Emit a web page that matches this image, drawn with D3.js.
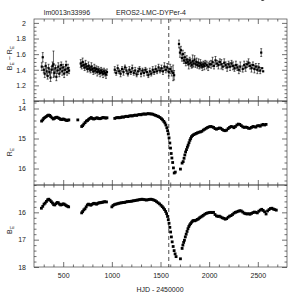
<!DOCTYPE html>
<html>
<head>
<meta charset="utf-8">
<script src="https://cdn.jsdelivr.net/npm/d3@7"></script>
<style>
  html, body { margin: 0; padding: 0; background: #fff; }
  svg text { font-family: "Liberation Sans", Arial, sans-serif; fill: #222; }
</style>
</head>
<body>
<div id="chart"></div>
<script>
// colour index B_E - R_E
const tCol = [280, 290, 300, 310, 320, 330, 340, 350, 360, 370, 380, 390, 400, 410, 420, 430, 440, 450, 460, 470, 480, 490, 500, 510, 520, 530, 540, 550, 560,
  680, 690, 700, 710, 720, 730, 740, 750, 760, 770, 780, 790, 800, 810, 820, 830, 840, 850, 860, 870, 880, 890, 900, 910, 920, 930, 940, 950,
  1030, 1045, 1060, 1075, 1090, 1105, 1120, 1135, 1150, 1165, 1180, 1195, 1210, 1225, 1240, 1255, 1270, 1285, 1300, 1315, 1330, 1345, 1360, 1375, 1390, 1405, 1420, 1435, 1450, 1465, 1480, 1495, 1510, 1525, 1540, 1555, 1570, 1585, 1600, 1615, 1630, 1640,
  1690, 1700, 1710, 1720, 1730, 1740, 1750, 1760, 1770, 1780, 1790, 1800, 1810, 1820, 1830, 1840, 1850, 1860, 1870, 1880, 1890, 1900, 1910, 1920, 1930, 1940, 1950, 1960, 1975, 1990, 2005,
  2020, 2035, 2050, 2065, 2080, 2095, 2110, 2125, 2140, 2155, 2170, 2185, 2200, 2215, 2230, 2245, 2260, 2275, 2290, 2305, 2320, 2345, 2360, 2375, 2390, 2405, 2420, 2435, 2450, 2465, 2480, 2495, 2510, 2525, 2535, 2545, 2555];
const colVal = [1.44, 1.56, 1.40, 1.35, 1.45, 1.38, 1.32, 1.42, 1.37, 1.30, 1.40, 1.45, 1.47, 1.36, 1.42, 1.31, 1.39, 1.44, 1.35, 1.41, 1.46, 1.38, 1.43, 1.35, 1.40, 1.46, 1.37, 1.42, 1.39,
  1.48, 1.45, 1.50, 1.46, 1.43, 1.47, 1.44, 1.41, 1.45, 1.42, 1.40, 1.44, 1.41, 1.38, 1.42, 1.39, 1.41, 1.37, 1.40, 1.38, 1.36, 1.39, 1.37, 1.35, 1.38, 1.36, 1.34, 1.37,
  1.40, 1.36, 1.42, 1.38, 1.35, 1.41, 1.37, 1.43, 1.39, 1.35, 1.40, 1.37, 1.42, 1.36, 1.39, 1.34, 1.38, 1.41, 1.35, 1.39, 1.36, 1.40, 1.37, 1.33, 1.38, 1.35, 1.40, 1.37, 1.41, 1.38, 1.43, 1.39, 1.42, 1.38, 1.44, 1.40, 1.43, 1.37, 1.41, 1.38, 1.36, 1.33,
  1.73, 1.62, 1.65, 1.55, 1.60, 1.52, 1.56, 1.49, 1.53, 1.50, 1.47, 1.52, 1.49, 1.46, 1.51, 1.48, 1.53, 1.47, 1.50, 1.46, 1.49, 1.45, 1.48, 1.46, 1.44, 1.47, 1.45, 1.48, 1.46, 1.44, 1.47,
  1.47, 1.50, 1.45, 1.52, 1.48, 1.46, 1.50, 1.47, 1.44, 1.49, 1.46, 1.43, 1.47, 1.44, 1.48, 1.45, 1.42, 1.46, 1.43, 1.40, 1.44, 1.41, 1.46, 1.43, 1.47, 1.49, 1.45, 1.42, 1.46, 1.41, 1.44, 1.40, 1.43, 1.39, 1.62, 1.42, 1.38];
const colErr = [0.05, 0.06, 0.04, 0.05, 0.04, 0.05, 0.04, 0.05, 0.04, 0.05, 0.04, 0.05, 0.17, 0.05, 0.04, 0.05, 0.04, 0.05, 0.04, 0.05, 0.04, 0.05, 0.04, 0.05, 0.04, 0.05, 0.04, 0.05, 0.04,
  0.05, 0.04, 0.05, 0.04, 0.04, 0.05, 0.04, 0.04, 0.05, 0.04, 0.04, 0.05, 0.04, 0.04, 0.05, 0.04, 0.04, 0.05, 0.04, 0.04, 0.05, 0.04, 0.04, 0.05, 0.04, 0.04, 0.05, 0.04,
  0.04, 0.03, 0.04, 0.03, 0.04, 0.03, 0.04, 0.03, 0.04, 0.03, 0.04, 0.03, 0.04, 0.03, 0.04, 0.03, 0.04, 0.03, 0.04, 0.03, 0.04, 0.03, 0.04, 0.03, 0.04, 0.03, 0.04, 0.03, 0.04, 0.03, 0.04, 0.03, 0.04, 0.04, 0.05, 0.04, 0.05, 0.05, 0.06, 0.06,
  0.10, 0.06, 0.05, 0.06, 0.05, 0.04, 0.05, 0.04, 0.06, 0.04, 0.05, 0.04, 0.06, 0.04, 0.05, 0.04, 0.08, 0.04, 0.05, 0.04, 0.05, 0.04, 0.05, 0.04, 0.05, 0.04, 0.05, 0.04, 0.05, 0.04, 0.05,
  0.05, 0.04, 0.05, 0.06, 0.04, 0.05, 0.04, 0.05, 0.04, 0.06, 0.04, 0.05, 0.04, 0.05, 0.04, 0.05, 0.04, 0.05, 0.04, 0.05, 0.04, 0.05, 0.06, 0.04, 0.05, 0.05, 0.04, 0.05, 0.04, 0.05, 0.04, 0.05, 0.04, 0.05, 0.05, 0.04, 0.05];

// R_E magnitude
const tR = [278, 290, 300, 312, 325, 338, 350, 362, 372, 385, 398, 410, 422, 435, 448, 460, 472, 485, 498, 510, 522, 535, 548, 558,
  650,
  690, 700, 712, 725, 738, 750, 762, 775, 788, 800, 812, 825, 838, 850, 862, 875, 888, 900, 912, 925, 938, 950,
  1030, 1045, 1060, 1075, 1090, 1105, 1120, 1135, 1150, 1165, 1180, 1195, 1210, 1225, 1240, 1255, 1270, 1285, 1300, 1315, 1330, 1345, 1360, 1375, 1390, 1405, 1420, 1435, 1450, 1465, 1480, 1495, 1510, 1522, 1534, 1545, 1555, 1565, 1573, 1580, 1588, 1596, 1603, 1610, 1617, 1625, 1633, 1641, 1652,
  1705, 1722, 1733, 1742, 1750, 1758, 1767, 1776, 1784, 1793, 1802, 1810, 1818, 1830, 1842, 1855, 1868, 1880, 1895, 1910, 1925, 1940, 1955, 1970, 1985, 2000, 2015, 2030, 2045, 2060, 2075, 2090, 2105, 2120, 2135, 2150, 2165, 2180, 2195, 2210, 2225, 2240, 2255, 2270, 2285, 2300, 2315, 2330, 2345, 2360, 2375, 2390, 2405, 2420, 2435, 2450, 2465, 2480, 2495, 2510, 2525, 2540, 2555, 2570, 2585];
const rMag = [14.42, 14.38, 14.33, 14.30, 14.27, 14.24, 14.22, 14.23, 14.27, 14.31, 14.35, 14.33, 14.30, 14.29, 14.31, 14.33, 14.36, 14.37, 14.35, 14.36, 14.38, 14.40, 14.39, 14.38,
  14.38,
  14.60, 14.57, 14.52, 14.47, 14.42, 14.40, 14.36, 14.33, 14.30, 14.33, 14.35, 14.34, 14.32, 14.31, 14.33, 14.34, 14.33, 14.31, 14.30, 14.31, 14.32, 14.31,
  14.33, 14.31, 14.30, 14.31, 14.30, 14.28, 14.29, 14.27, 14.26, 14.27, 14.25, 14.24, 14.25, 14.23, 14.22, 14.23, 14.21, 14.20, 14.21, 14.19, 14.18, 14.19, 14.18, 14.17, 14.18, 14.18, 14.19, 14.21, 14.23, 14.25, 14.27, 14.30, 14.34, 14.38, 14.43, 14.48, 14.55, 14.64, 14.74, 14.85, 14.98, 15.15, 15.32, 15.50, 15.65, 15.80, 15.98, 16.15, 16.12,
  16.02, 15.82, 15.77, 15.66, 15.55, 15.45, 15.37, 15.29, 15.22, 15.14, 15.06, 15.00, 14.94, 14.90, 14.87, 14.85, 14.83, 14.81, 14.79, 14.78, 14.76, 14.72, 14.69, 14.66, 14.63, 14.61, 14.60, 14.61, 14.63, 14.67, 14.69, 14.67, 14.65, 14.66, 14.70, 14.73, 14.74, 14.72, 14.67, 14.63, 14.60, 14.61, 14.64, 14.60, 14.55, 14.52, 14.53, 14.57, 14.61, 14.63, 14.62, 14.63, 14.66, 14.66, 14.63, 14.60, 14.61, 14.62, 14.58, 14.57, 14.59, 14.55, 14.53, 14.55, 14.53];

// B_E magnitude
const tB = [276, 290, 303, 315, 328, 340, 352, 365, 378, 390, 402, 414, 426, 438, 450, 462, 474, 486, 498, 510, 522, 534, 546, 556,
  690, 700, 712, 724, 736, 748, 760, 772, 784, 796, 808, 820, 832, 844, 856, 868, 880, 892, 904, 916, 928, 945,
  1000, 1012, 1025, 1040, 1055, 1070, 1085, 1100, 1115, 1130, 1145, 1160, 1175, 1190, 1205, 1220, 1235, 1250, 1265, 1280, 1295, 1310, 1325, 1340, 1355, 1370, 1385, 1400, 1415, 1430, 1445, 1460, 1475, 1490, 1505, 1518, 1530, 1542, 1553, 1563, 1572, 1580, 1588, 1596, 1604, 1612, 1620, 1630, 1640, 1650, 1660,
  1705, 1722, 1730, 1738, 1746, 1755, 1764, 1773, 1782, 1791, 1800, 1810, 1820, 1830, 1840, 1852, 1865, 1878, 1890, 1902, 1915, 1928, 1940, 1955, 1970, 1985, 2000, 2015, 2030, 2045, 2060, 2075, 2090, 2105, 2120, 2135, 2150, 2165, 2180, 2195, 2210, 2225, 2240, 2255, 2270, 2285, 2300, 2315, 2330, 2345, 2360, 2375, 2390, 2405, 2420, 2435, 2450, 2465, 2480, 2495, 2510, 2525, 2540, 2555, 2570, 2585, 2600, 2615, 2630, 2645, 2660, 2675, 2690];
const bMag = [15.85, 15.78, 15.70, 15.66, 15.60, 15.54, 15.52, 15.56, 15.61, 15.66, 15.72, 15.73, 15.68, 15.64, 15.65, 15.70, 15.73, 15.72, 15.69, 15.70, 15.73, 15.76, 15.78, 15.80,
  16.02, 15.97, 15.91, 15.87, 15.80, 15.73, 15.70, 15.72, 15.74, 15.71, 15.68, 15.67, 15.69, 15.70, 15.67, 15.65, 15.65, 15.64, 15.63, 15.62, 15.61, 15.62,
  15.80, 15.75, 15.72, 15.70, 15.69, 15.67, 15.66, 15.65, 15.64, 15.64, 15.62, 15.61, 15.60, 15.60, 15.59, 15.58, 15.57, 15.56, 15.55, 15.54, 15.53, 15.52, 15.53, 15.54, 15.55, 15.54, 15.53, 15.52, 15.53, 15.55, 15.57, 15.61, 15.65, 15.69, 15.74, 15.79, 15.84, 15.90, 15.97, 16.05, 16.15, 16.27, 16.40, 16.55, 16.72, 16.90, 17.08, 17.25, 17.40, 17.52, 17.62,
  17.70, 17.32, 17.20, 17.10, 17.02, 16.90, 16.80, 16.70, 16.60, 16.52, 16.46, 16.41, 16.36, 16.32, 16.30, 16.31, 16.29, 16.26, 16.24, 16.20, 16.17, 16.14, 16.11, 16.07, 16.04, 16.02, 16.01, 16.00, 16.01, 16.00, 16.08, 16.13, 16.15, 16.14, 16.17, 16.20, 16.22, 16.25, 16.23, 16.18, 16.14, 16.12, 16.08, 16.03, 16.00, 15.98, 15.96, 15.94, 15.95, 15.99, 16.03, 16.05, 16.06, 16.05, 16.07, 16.04, 16.01, 15.99, 16.00, 16.02, 15.96, 15.92, 15.89, 15.93, 15.98, 16.06, 15.95, 15.90, 15.86, 15.85, 15.88, 15.90, 15.92];

const xTicksMajor = [500, 1000, 1500, 2000, 2500];
const tEvent = 1585;
const titleLeft = "lm0013n33996";
const titleRight = "EROS2-LMC-DYPer-4";
const xTitle = "HJD - 2450000";

const width = 304, height = 304;
const X0 = 34, X1 = 287;

const svg = d3.select('#chart').append('svg')
  .attr('width', width)
  .attr('height', height);

const x = d3.scaleLinear().domain([200, 2800]).range([X0, X1]);
const xMinor = d3.range(300, 2800, 100).filter(v => v % 500 !== 0);

const panels = [
  { top: 19, bottom: 101, domain: [1, 2.05], major: [1, 1.2, 1.4, 1.6, 1.8, 2], minorStep: 0.05,
    label: ['B', 'E', ' \u2212 ', 'R', 'E'], labelY: 58,
    t: tCol, v: colVal, e: colErr, size: 2.2 },
  { top: 101, bottom: 185, domain: [13.75, 16.55], major: [14, 15, 16], minorStep: 0.2,
    label: ['R', 'E'], labelY: 152,
    t: tR, v: rMag, e: null, size: 2.8 },
  { top: 185, bottom: 267, domain: [15, 18], major: [16, 17, 18], minorStep: 0.2,
    label: ['B', 'E'], labelY: 230,
    t: tB, v: bMag, e: null, size: 2.8 }
];

panels.forEach((p, i) => {
  // magnitudes grow downwards, the colour upwards
  const y = d3.scaleLinear().domain(p.domain).range(i === 0 ? [p.bottom, p.top] : [p.top, p.bottom]);
  const g = svg.append('g');

  const lo = Math.min(...p.domain), hi = Math.max(...p.domain);
  const yMinor = d3.range(Math.ceil(lo / p.minorStep) * p.minorStep, hi, p.minorStep)
    .map(v => +v.toFixed(3))
    .filter(v => !p.major.some(m => Math.abs(m - v) < 1e-6));

  // ticks on all four sides, pointing inwards
  const axisStyle = sel => {
    sel.select('.domain').remove();
    sel.selectAll('line').attr('stroke', '#333').attr('stroke-width', 0.7);
    sel.selectAll('text').style('font-size', '7px').attr('fill', '#222');
  };

  g.append('g').attr('transform', `translate(${X0},0)`)
    .call(d3.axisLeft(y).tickValues(p.major).tickSize(-5).tickPadding(8).tickFormat(d3.format('~g')))
    .call(axisStyle);
  g.append('g').attr('transform', `translate(${X0},0)`)
    .call(d3.axisLeft(y).tickValues(yMinor).tickSize(-2.5).tickFormat(''))
    .call(axisStyle);
  g.append('g').attr('transform', `translate(${X1},0)`)
    .call(d3.axisRight(y).tickValues(p.major).tickSize(-5).tickFormat(''))
    .call(axisStyle);
  g.append('g').attr('transform', `translate(${X1},0)`)
    .call(d3.axisRight(y).tickValues(yMinor).tickSize(-2.5).tickFormat(''))
    .call(axisStyle);

  g.append('g').attr('transform', `translate(0,${p.top})`)
    .call(d3.axisTop(x).tickValues(xTicksMajor).tickSize(-5).tickFormat(''))
    .call(axisStyle);
  g.append('g').attr('transform', `translate(0,${p.top})`)
    .call(d3.axisTop(x).tickValues(xMinor).tickSize(-2.5).tickFormat(''))
    .call(axisStyle);
  g.append('g').attr('transform', `translate(0,${p.bottom})`)
    .call(d3.axisBottom(x).tickValues(xTicksMajor).tickSize(-5).tickPadding(6)
      .tickFormat(i === 2 ? d3.format('d') : ''))
    .call(axisStyle);
  g.append('g').attr('transform', `translate(0,${p.bottom})`)
    .call(d3.axisBottom(x).tickValues(xMinor).tickSize(-2.5).tickFormat(''))
    .call(axisStyle);

  // frame
  g.append('rect')
    .attr('x', X0).attr('y', p.top)
    .attr('width', X1 - X0).attr('height', p.bottom - p.top)
    .attr('fill', 'none').attr('stroke', '#444').attr('stroke-width', 0.7);

  const pts = p.t.map((t, k) => ({ t, v: p.v[k], e: p.e ? p.e[k] : 0 }));

  if (p.e) {
    const eb = g.append('g').attr('stroke', '#000').attr('stroke-width', 0.6);
    eb.selectAll('line.bar').data(pts).join('line').attr('class', 'bar')
      .attr('x1', d => x(d.t)).attr('x2', d => x(d.t))
      .attr('y1', d => y(d.v - d.e)).attr('y2', d => y(d.v + d.e));
    eb.selectAll('line.capHi').data(pts).join('line').attr('class', 'capHi')
      .attr('x1', d => x(d.t) - 1).attr('x2', d => x(d.t) + 1)
      .attr('y1', d => y(d.v + d.e)).attr('y2', d => y(d.v + d.e));
    eb.selectAll('line.capLo').data(pts).join('line').attr('class', 'capLo')
      .attr('x1', d => x(d.t) - 1).attr('x2', d => x(d.t) + 1)
      .attr('y1', d => y(d.v - d.e)).attr('y2', d => y(d.v - d.e));
  }

  g.append('g').selectAll('rect').data(pts).join('rect')
    .attr('x', d => x(d.t) - p.size / 2)
    .attr('y', d => y(d.v) - p.size / 2)
    .attr('width', p.size).attr('height', p.size)
    .attr('fill', '#000');

  // rotated y title with subscripts
  const lab = svg.append('text')
    .attr('transform', `translate(12,${p.labelY}) rotate(-90)`)
    .attr('text-anchor', 'middle')
    .style('font-size', '7px');
  p.label.forEach((s, k) => {
    const sub = s === 'E';
    lab.append('tspan').text(s)
      .style('font-size', sub ? '5px' : '7px')
      .attr('dy', sub ? 1.5 : (k > 0 && p.label[k - 1] === 'E' ? -1.5 : 0));
  });
});

// event line
svg.append('line')
  .attr('x1', x(tEvent)).attr('x2', x(tEvent))
  .attr('y1', panels[0].top).attr('y2', panels[2].bottom)
  .attr('stroke', '#000').attr('stroke-width', 0.7)
  .attr('stroke-dasharray', '4,3');

svg.append('text').attr('x', 67).attr('y', 15).attr('text-anchor', 'middle')
  .style('font-size', '7px').text(titleLeft);
svg.append('text').attr('x', 151).attr('y', 15).attr('text-anchor', 'middle')
  .style('font-size', '7px').text(titleRight);
svg.append('text').attr('x', 160).attr('y', 292).attr('text-anchor', 'middle')
  .style('font-size', '7px').text(xTitle);
</script>
</body>
</html>
